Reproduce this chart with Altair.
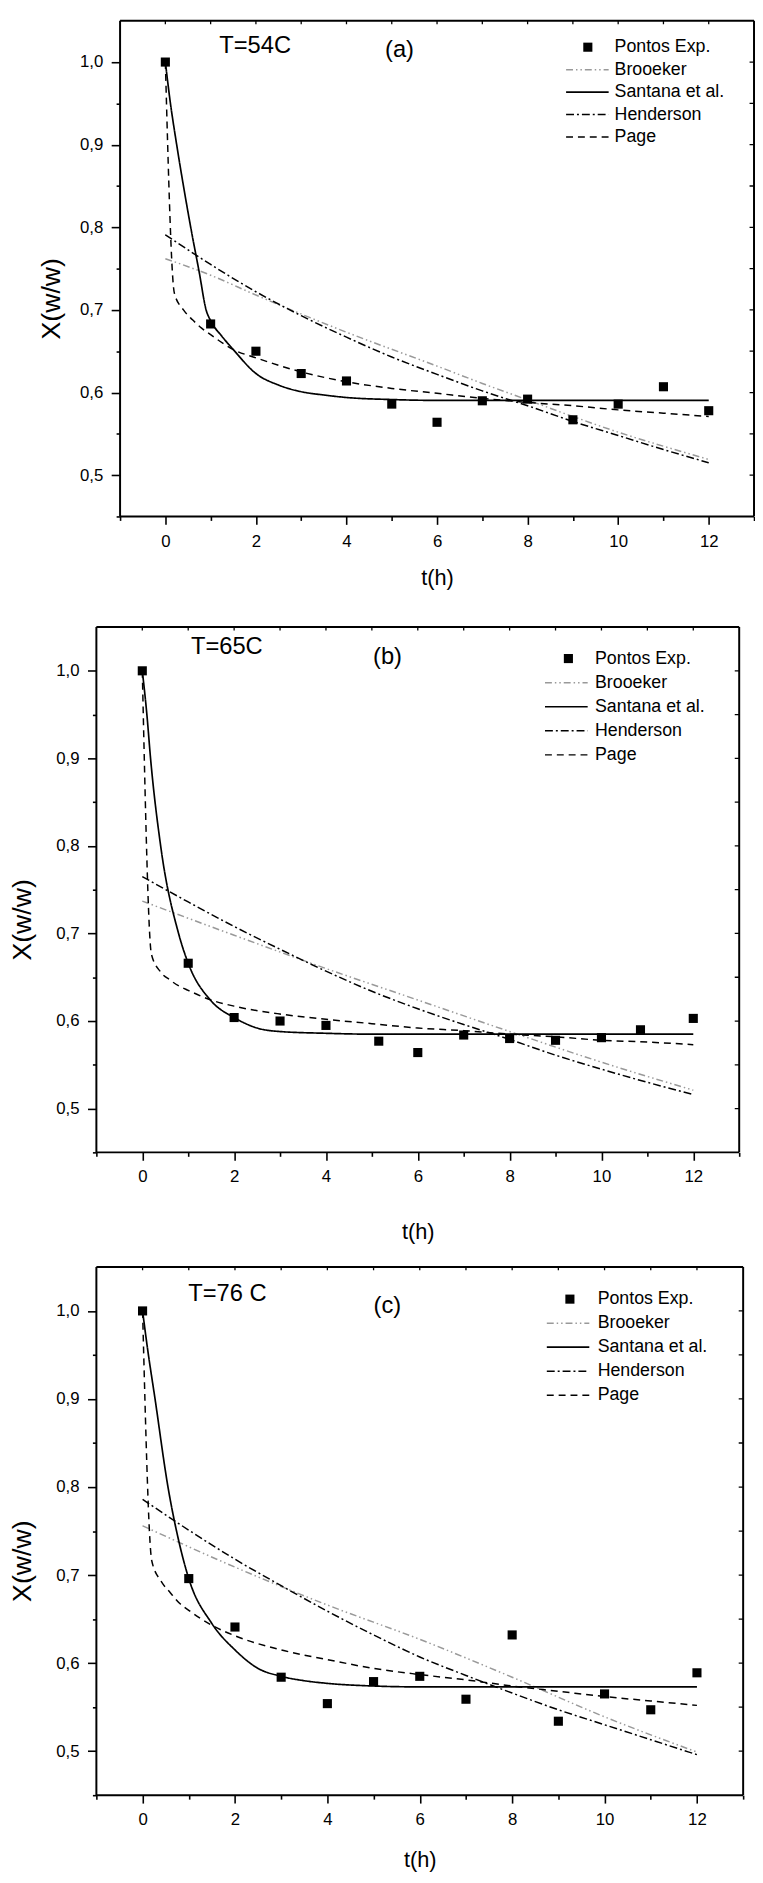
import altair as alt
import pandas as pd

FONT = "Liberation Sans"

# ---------------- data ----------------
SERIES = ["Pontos Exp.", "Brooeker", "Santana et al.", "Henderson", "Page"]
X_TICKS = [-1, 0, 1, 2, 3, 4, 5, 6, 7, 8, 9, 10, 11, 12, 13]
Y_TICKS = [0.45, 0.5, 0.55, 0.6, 0.65, 0.7, 0.75, 0.8, 0.85, 0.9, 0.95, 1.0]
TOP_TICKS = [0, 1, 2, 3, 4, 5, 6, 7, 8, 9, 10, 11, 12]
RIGHT_TICKS = [0.5, 0.55, 0.6, 0.65, 0.7, 0.75, 0.8, 0.85, 0.9, 0.95, 1.0]

# Panel (a) T=54C
exp_t_a = [0, 1, 2, 3, 4, 5, 6, 7, 8, 9, 10, 11, 12]
exp_x_a = [1.000, 0.683, 0.650, 0.623, 0.614, 0.586, 0.564, 0.590, 0.592, 0.567, 0.586, 0.607, 0.578]
santana_t_a = [0, 0.1, 0.25, 0.4, 0.56, 0.75, 0.9, 1.0, 1.25, 1.5, 2, 2.5, 3, 3.5, 4, 5, 6, 8, 10, 12]
santana_x_a = [1.0, 0.955, 0.90, 0.85, 0.80, 0.745, 0.70, 0.687, 0.668, 0.652, 0.623, 0.609, 0.601, 0.597, 0.594, 0.5915, 0.5905, 0.5905, 0.5905, 0.5905]
page_t_a = [0, 0.2, 0.4, 0.6, 0.8, 1, 1.5, 2, 3, 4, 5, 6, 7, 8, 9, 10, 11, 12]
page_x_a = [1.0, 0.72, 0.70, 0.688, 0.678, 0.670, 0.652, 0.642, 0.625, 0.613, 0.605, 0.599, 0.593, 0.588, 0.584, 0.579, 0.575, 0.571]
hend_t_a = [0, 1, 2, 3, 4, 5, 6, 7, 8, 9, 10, 11, 12]
hend_x_a = [0.791, 0.755, 0.722, 0.693, 0.667, 0.643, 0.622, 0.602, 0.584, 0.565, 0.548, 0.531, 0.515]
brook_t_a = [0, 1, 2, 4, 6, 7, 8, 9, 10, 11, 12]
brook_x_a = [0.762, 0.742, 0.718, 0.673, 0.632, 0.611, 0.591, 0.571, 0.552, 0.535, 0.519]

# Panel (b) T=65C
exp_t_b = [0, 1, 2, 3, 4, 5.15, 6, 7, 8, 9, 10, 10.85, 12]
exp_x_b = [1.000, 0.666, 0.604, 0.600, 0.595, 0.577, 0.564, 0.584, 0.580, 0.578, 0.581, 0.590, 0.603]
santana_t_b = [0, 0.1, 0.18, 0.4, 0.79, 1, 1.5, 2, 2.5, 3, 4, 5, 6, 8, 10, 12]
santana_x_b = [1.0, 0.95, 0.90, 0.80, 0.70, 0.666, 0.623, 0.604, 0.592, 0.588, 0.586, 0.585, 0.585, 0.585, 0.585, 0.585]
page_t_b = [0, 0.2, 0.4, 0.6, 0.8, 1, 1.5, 2, 3, 4, 5, 6, 7, 8, 9, 10, 11, 12]
page_x_b = [1.0, 0.676, 0.656, 0.647, 0.640, 0.635, 0.624, 0.617, 0.608, 0.602, 0.597, 0.592, 0.589, 0.585, 0.582, 0.578, 0.576, 0.573]
hend_t_b = [0, 1, 2, 3, 4, 5, 6, 7, 8, 9, 10, 11, 12]
hend_x_b = [0.765, 0.736, 0.708, 0.682, 0.657, 0.634, 0.614, 0.596, 0.579, 0.561, 0.545, 0.530, 0.516]
brook_t_b = [0, 2, 4, 6, 8, 10, 12]
brook_x_b = [0.737, 0.698, 0.660, 0.624, 0.588, 0.553, 0.521]

# Panel (c) T=76 C
exp_t_c = [0, 1, 2, 3, 4, 5, 6, 7, 8, 9, 10, 11, 12]
exp_x_c = [1.000, 0.696, 0.641, 0.584, 0.554, 0.579, 0.585, 0.559, 0.632, 0.534, 0.565, 0.547, 0.589]
santana_t_c = [0, 0.1, 0.27, 0.55, 0.8, 1, 1.5, 2, 2.5, 3, 3.5, 4, 5, 6, 8, 10, 12]
santana_x_c = [1.0, 0.96, 0.90, 0.80, 0.735, 0.696, 0.645, 0.615, 0.594, 0.585, 0.580, 0.577, 0.574, 0.573, 0.573, 0.573, 0.573]
page_t_c = [0, 0.2, 0.4, 0.6, 0.8, 1, 1.5, 2, 3, 4, 5, 6, 7, 8, 9, 10, 11, 12]
page_x_c = [1.0, 0.716, 0.693, 0.680, 0.668, 0.660, 0.643, 0.631, 0.615, 0.604, 0.594, 0.587, 0.581, 0.574, 0.568, 0.562, 0.557, 0.552]
hend_t_c = [0, 1, 2, 3, 4, 5, 6, 7, 8, 9, 10, 11, 12]
hend_x_c = [0.786, 0.751, 0.718, 0.688, 0.659, 0.632, 0.607, 0.586, 0.566, 0.547, 0.530, 0.513, 0.496]
brook_t_c = [0, 2, 4, 6, 8, 10, 12]
brook_x_c = [0.756, 0.709, 0.666, 0.627, 0.584, 0.539, 0.499]

# ---------------- styles / layout ----------------
STYLE = {
    "Brooeker": dict(color="#999999", dash=[7, 3, 1.5, 3, 1.5, 3], width=1.5),
    "Santana et al.": dict(color="black", dash=[1, 0], width=1.7),
    "Henderson": dict(color="black", dash=[8, 3, 2, 3], width=1.5),
    "Page": dict(color="black", dash=[7, 5], width=1.5),
}
ORIGIN_X = 96
Y_TITLE_FS = 27


def line_layer(ts, xs, name, enc, interp="monotone"):
    s = STYLE[name]
    df = pd.DataFrame({"t": ts, "X": xs})
    return alt.Chart(df).mark_line(color=s["color"], strokeDash=s["dash"], interpolate=interp,
                                   strokeWidth=s["width"], clip=True).encode(**enc)


def make_panel(p, g):
    xmaj = "datum.value >= 0 && datum.value <= 12 && datum.value % 2 == 0"
    ymaj = "round(datum.value * 100) % 10 == 0"
    xaxis = alt.Axis(values=X_TICKS, domain=False, grid=False,
                     labelExpr=f"{xmaj} ? format(datum.value, 'd') : ''",
                     tickSize={"condition": {"test": xmaj, "value": 8}, "value": 4},
                     tickWidth=1.6, tickColor="black", labelColor="black",
                     labelFont=FONT, labelFontSize=17, labelPadding=9,
                     labelOverlap=False, labelFlush=False,
                     title="t(h)", titleFont=FONT, titleFontSize=22, titleFontWeight="normal",
                     titleColor="black", titleBaseline="middle",
                     titleY=g["xty"], titleX=g["xtx"])
    yaxis = alt.Axis(values=Y_TICKS, domain=False, grid=False, offset=g["yoff"],
                     labelExpr=f"{ymaj} ? replace(format(datum.value, '.1f'), '.', ',') : ''",
                     tickSize={"condition": {"test": ymaj, "value": 9}, "value": 4},
                     tickWidth=1.6, tickColor="black", labelColor="black",
                     labelFont=FONT, labelFontSize=17, labelPadding=8.5,
                     labelOverlap=False, labelFlush=False,
                     title="X(w/w)", titleFont=FONT, titleFontSize=Y_TITLE_FS,
                     titleFontWeight="normal", titleColor="black", titleAngle=270,
                     titleBaseline="top", titleAlign="center",
                     titleX=g["ytx"], titleY=g["height"] / 2 + 30)
    xs = alt.Scale(domain=[g["xmin"], 13], nice=False, zero=False)
    ys = alt.Scale(domain=[0.45, 1.05], nice=False, zero=False)
    enc = dict(x=alt.X("t:Q", scale=xs, axis=xaxis), y=alt.Y("X:Q", scale=ys, axis=yaxis))

    layers = []
    # frame
    frame = pd.DataFrame({"t": [-1, -1, -1, 13], "t2": [13, 13, -1, 13],
                          "X": [1.05, 0.45, 0.45, 0.45], "X2": [1.05, 0.45, 1.05, 1.05]})
    layers.append(alt.Chart(frame).mark_rule(color="black", strokeWidth=2).encode(
        x2="t2:Q", y2="X2:Q", **enc))
    # small inward ticks on the top and right edges of the frame (clipped halves)
    top_ticks = pd.DataFrame({"t": TOP_TICKS, "X": [1.05] * len(TOP_TICKS)})
    layers.append(alt.Chart(top_ticks).mark_tick(orient="vertical", size=7, thickness=1.3,
                                                  color="black", opacity=1, clip=True).encode(**enc))
    right_ticks = pd.DataFrame({"t": [13] * len(RIGHT_TICKS), "X": RIGHT_TICKS})
    layers.append(alt.Chart(right_ticks).mark_tick(orient="horizontal", size=9, thickness=1.3,
                                                    color="black", opacity=1, clip=True).encode(**enc))

    layers.append(line_layer(p["brook"][0], p["brook"][1], "Brooeker", enc))
    layers.append(line_layer(p["hend"][0], p["hend"][1], "Henderson", enc))
    layers.append(line_layer(p["page"][0], p["page"][1], "Page", enc))
    layers.append(line_layer(p["sant"][0], p["sant"][1], "Santana et al.", enc))
    pts = pd.DataFrame({"t": p["exp"][0], "X": p["exp"][1]})
    layers.append(alt.Chart(pts).mark_square(size=85, color="black", opacity=1).encode(**enc))

    # annotations
    ann1 = pd.DataFrame({"t": [p["tpos"][0]], "X": [p["tpos"][1]], "txt": [p["tlabel"]]})
    layers.append(alt.Chart(ann1).mark_text(align="left", baseline="middle", font=FONT,
                                             fontSize=24, color="black").encode(text="txt:N", **enc))
    ann2 = pd.DataFrame({"t": [p["lpos"][0]], "X": [p["lpos"][1]], "txt": [p["letter"]]})
    layers.append(alt.Chart(ann2).mark_text(align="center", baseline="middle", font=FONT,
                                             fontSize=24, color="black").encode(text="txt:N", **enc))

    # legend (placed in data coordinates)
    lg = p["legend"]
    rows = [lg["y0"] - i * lg["dy"] for i in range(5)]
    ltxt = pd.DataFrame({"t": [lg["tx"]] * 5, "X": rows, "txt": SERIES})
    layers.append(alt.Chart(ltxt).mark_text(align="left", baseline="middle", font=FONT,
                                             fontSize=18, color="black").encode(text="txt:N", **enc))
    lsq = pd.DataFrame({"t": [lg["sq"]], "X": [rows[0]]})
    layers.append(alt.Chart(lsq).mark_square(size=85, color="black", opacity=1).encode(**enc))
    for i, name in enumerate(SERIES[1:], start=1):
        layers.append(line_layer(lg["line"], [rows[i], rows[i]], name, enc, interp="linear"))

    return alt.layer(*layers).properties(width=g["width"], height=g["height"])


pa = dict(exp=(exp_t_a, exp_x_a), sant=(santana_t_a, santana_x_a), page=(page_t_a, page_x_a),
          hend=(hend_t_a, hend_x_a), brook=(brook_t_a, brook_x_a),
          tlabel="T=54C", tpos=(1.19, 1.019), letter="(a)", lpos=(5.17, 1.014),
          legend=dict(tx=9.92, sq=9.33, line=[8.85, 9.79], y0=1.018, dy=0.0272))
pb = dict(exp=(exp_t_b, exp_x_b), sant=(santana_t_b, santana_x_b), page=(page_t_b, page_x_b),
          hend=(hend_t_b, hend_x_b), brook=(brook_t_b, brook_x_b),
          tlabel="T=65C", tpos=(1.06, 1.027), letter="(b)", lpos=(5.34, 1.016),
          legend=dict(tx=9.86, sq=9.28, line=[8.77, 9.70], y0=1.014, dy=0.0275))
pc = dict(exp=(exp_t_c, exp_x_c), sant=(santana_t_c, santana_x_c), page=(page_t_c, page_x_c),
          hend=(hend_t_c, hend_x_c), brook=(brook_t_c, brook_x_c),
          tlabel="T=76 C", tpos=(0.99, 1.019), letter="(c)", lpos=(5.3, 1.006),
          legend=dict(tx=9.85, sq=9.25, line=[8.75, 9.67], y0=1.0134, dy=0.0273))

unit_a = 642 / 14.0
ga = dict(width=666, height=502, xmin=-1 - 24 / unit_a, yoff=-24,
          ytx=(51 - ORIGIN_X) - 24 - Y_TITLE_FS / 2, xty=61.5, xtx=24 + 7 * unit_a)
gb = dict(width=651, height=532, xmin=-1, yoff=0,
          ytx=(22 - ORIGIN_X) - Y_TITLE_FS / 2, xty=80, xtx=651 / 2)
gc = dict(width=655, height=535, xmin=-1, yoff=0,
          ytx=(22 - ORIGIN_X) - Y_TITLE_FS / 2, xty=65, xtx=655 / 2)

left_pad = ORIGIN_X - 8 + gb["ytx"]

inner = alt.vconcat(make_panel(pa, ga), make_panel(pb, gb), spacing=38)
chart = alt.vconcat(inner, make_panel(pc, gc), spacing=24).properties(
    padding={"left": left_pad, "top": 0, "right": 0, "bottom": 0}
).configure_view(stroke=None)

chart.save("out.html", embed_options={"renderer": "svg", "actions": False})
